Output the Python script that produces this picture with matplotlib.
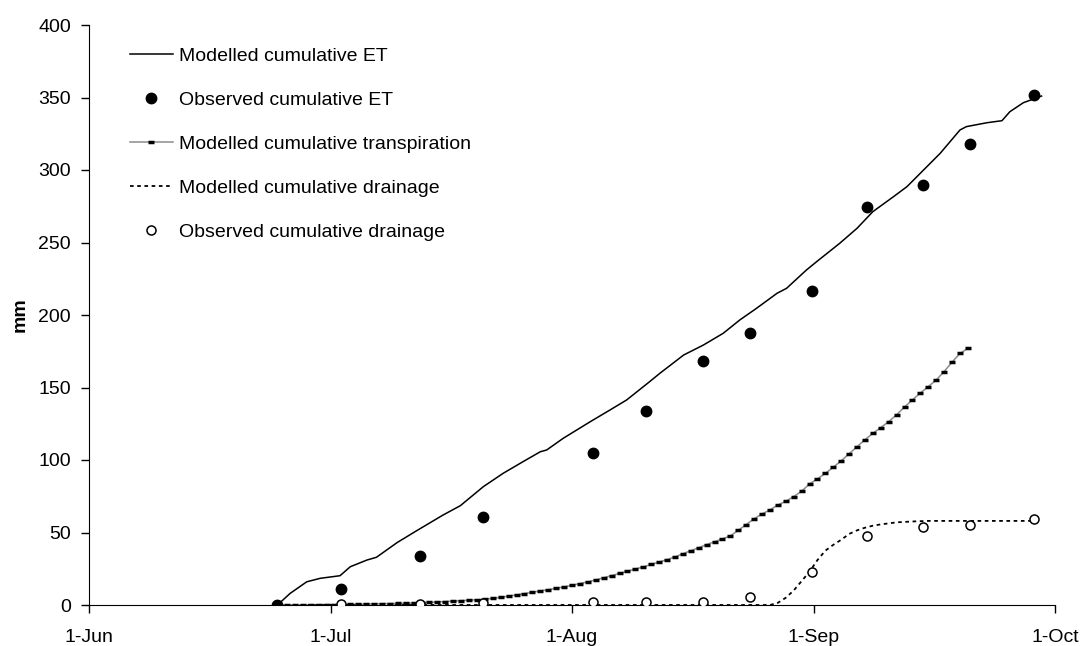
import numpy as np
import matplotlib
matplotlib.use("Agg")
import matplotlib.pyplot as plt

plt.rcParams['font.family'] = ['Liberation Sans', 'DejaVu Sans']

# x values are days after 1-Jun (axis runs 1-Jun .. 1-Oct)
month_labels = ['1-Jun', '1-Jul', '1-Aug', '1-Sep', '1-Oct']
month_pos = [0, 30.5, 61, 91.5, 122]

# Modelled cumulative ET
et_mod_day = [23.8, 25.4, 27.5, 29.2, 31.7, 33.0, 35.1, 36.3, 38.9, 41.4, 44.7, 46.9,
              49.8, 52.3, 54.8, 57.0, 57.8, 59.9, 63.3, 65.8, 67.9, 70.8, 72.1, 75.1,
              77.6, 80.1, 82.2, 84.3, 86.9, 88.1, 90.6, 91.9, 94.8, 97.0, 99.0, 101.6,
              103.3, 105.4, 107.5, 110.0, 110.8, 113.4, 115.3, 116.3, 118.0, 120.3]
et_mod_val = [0, 8, 16, 18.4, 20.2, 26.4, 31, 32.9, 43, 51.3, 62, 68.5,
              81.6, 90.8, 98.8, 105.7, 106.9, 115, 126.4, 134.5, 141.4, 154, 159.8, 172.4,
              179.3, 187.4, 196.6, 204.6, 215, 218.4, 231, 236.8, 249.4, 259.8, 271.3, 281.6,
              288.5, 300, 311.5, 327.6, 329.9, 332.6, 334, 340.2, 346.4, 351]

# Observed cumulative ET / drainage (same sampling dates)
obs_day = [23.8, 31.8, 41.8, 49.7, 63.6, 70.4, 77.5, 83.5, 91.3, 98.3, 105.3, 111.3, 119.3]
et_obs = [0, 10.8, 34, 60.7, 105, 134, 168, 187.4, 216.5, 274.7, 289.7, 317.7, 351.5]
dr_obs = [0, 0.5, 0.7, 1.1, 2.0, 2.3, 2.3, 5.7, 22.5, 47.4, 54, 55, 59.3]

# Modelled cumulative transpiration (daily)
tr_day = list(range(24, 112))
tr_val = [0, 0, 0.1, 0.1, 0.2, 0.2, 0.3, 0.3, 0.4, 0.5, 0.6, 0.7, 0.8, 0.9, 1.0, 1.1,
          1.2, 1.4, 1.6, 1.8, 2.1, 2.4, 2.7, 3.0, 3.3, 3.6, 4.0, 4.6, 5.3, 6.1, 7.0, 7.9,
          8.8, 9.7, 10.6, 11.5, 12.5, 13.6, 14.8, 16.0, 17.3, 18.8, 20.3, 21.8, 23.3, 24.8,
          26.3, 28.0, 29.6, 31.3, 33.2, 35.3, 37.5, 39.5, 41.7, 43.6, 45.6, 47.7, 51.5, 55.5,
          59.5, 62.8, 65.6, 69.0, 71.5, 74.8, 78.5, 83.5, 87.0, 90.8, 95.0, 99.5, 104.3,
          109.2, 114.0, 118.4, 122.4, 126.5, 131.2, 136.6, 141.5, 146.2, 150.6, 155.2,
          161.0, 167.5, 173.5, 177.0]

# Modelled cumulative drainage
dr_mod_day = [24, 86, 87, 88, 89, 90, 91, 92, 93, 94, 95, 96, 97, 98, 99, 100, 102,
              104, 106, 110, 115, 120.3]
dr_mod_val = [0, 0, 1.5, 5, 10, 16.5, 23, 31, 37.5, 41.5, 45, 49, 51.5, 53.3, 54.7,
              55.6, 57, 57.6, 58, 58, 58, 58]

fig = plt.figure(figsize=(10.85, 6.46), dpi=100)
ax = fig.add_axes([89 / 1085, 41 / 646, 966 / 1085, 580 / 646])

ax.plot(et_mod_day, et_mod_val, color='black', lw=1.1, label='Modelled cumulative ET', zorder=3)
ax.plot(obs_day, et_obs, 'o', color='black', ms=7.5, label='Observed cumulative ET', zorder=5)
ax.plot(tr_day, tr_val, color='#8c8c8c', lw=1.1, marker='_', ms=4, mew=2.5, mec='black',
        label='Modelled cumulative transpiration', zorder=3)
ax.plot(dr_mod_day, dr_mod_val, color='black', lw=1.3, ls=(0, (2, 2)),
        label='Modelled cumulative drainage', zorder=3)
ax.plot(obs_day, dr_obs, 'o', mfc='white', mec='black', mew=1.1, ms=6.5,
        label='Observed cumulative drainage', zorder=4)

ax.set_xlim(0, 122)
ax.set_ylim(0, 400)
ax.set_xticks(month_pos)
ax.set_xticklabels(month_labels)
ax.set_yticks(np.arange(0, 401, 50))
ax.tick_params(axis='both', labelsize=14, direction='out', length=6, width=1)
ax.tick_params(axis='x', pad=11)
ax.tick_params(axis='y', pad=7)
ax.spines['top'].set_visible(False)
ax.spines['right'].set_visible(False)
ax.set_ylabel('mm', fontsize=14, fontweight='bold', labelpad=7)

ax.legend(loc='upper left', bbox_to_anchor=(130 / 1085, 1 - 47 / 646),
          bbox_transform=fig.transFigure, frameon=False, fontsize=14, numpoints=1,
          handlelength=2.2, handletextpad=0.3, labelspacing=1.36, borderpad=0,
          borderaxespad=0)

fig.savefig('out.png', dpi=100, facecolor='white')
